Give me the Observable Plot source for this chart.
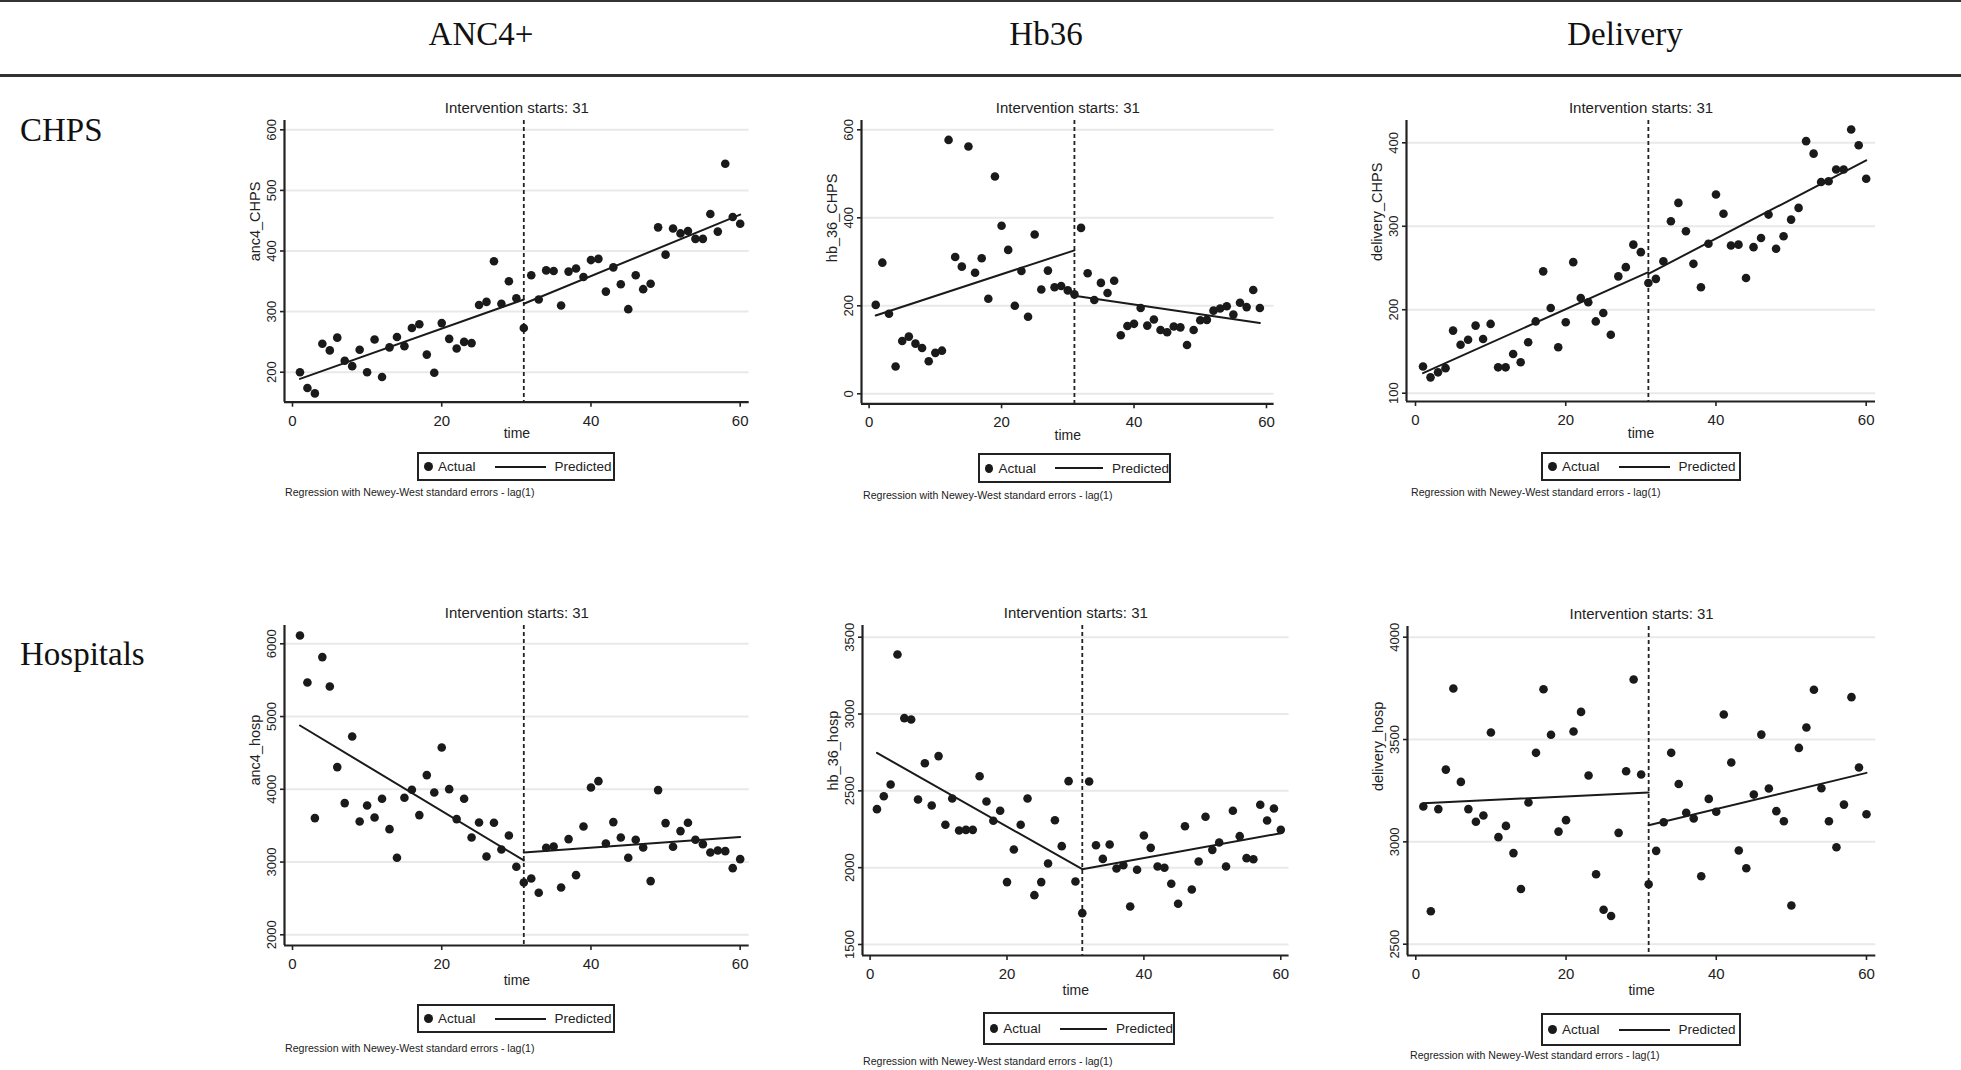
<!DOCTYPE html>
<html><head><meta charset="utf-8">
<script src="https://cdn.jsdelivr.net/npm/d3@7"></script>
<script src="https://cdn.jsdelivr.net/npm/@observablehq/plot@0.6"></script>
<style>
body{margin:0;background:#fff;}
#page{position:relative;width:1961px;height:1070px;overflow:hidden;font-family:"Liberation Sans",Arial,sans-serif;color:#222;background:#fff;}
.hline{position:absolute;left:0;width:1961px;background:#333;}
.head{position:absolute;font-family:"Liberation Serif","Times New Roman",serif;font-size:33px;color:#111;transform:translate(-50%,-50%);white-space:nowrap;}
.row{position:absolute;font-family:"Liberation Serif","Times New Roman",serif;font-size:33px;color:#111;transform:translateY(-50%);white-space:nowrap;}
.panel{position:absolute;}
.legend{position:absolute;border:2px solid #222;box-sizing:border-box;display:flex;align-items:center;font-size:13.5px;background:#fff;padding-left:5px;white-space:nowrap;}
.legend .dot{width:9px;height:9px;border-radius:50%;background:#1a1a1a;margin-right:5px;}
.legend .ln{width:51px;height:2px;background:#1a1a1a;margin:0 9px 0 19px;}
.note{position:absolute;font-size:10.6px;white-space:nowrap;color:#222;}
</style></head><body><div id="page"></div>
<script>
// ---------------- DATA ----------------
const columns = ["ANC4+", "Hb36", "Delivery"];
const rows = ["CHPS", "Hospitals"];
const interventionStart = 31;
const xTicks = [0, 20, 40, 60];
const time = [1,2,3,4,5,6,7,8,9,10,11,12,13,14,15,16,17,18,19,20,21,22,23,24,25,26,27,28,29,30,
  31,32,33,34,35,36,37,38,39,40,41,42,43,44,45,46,47,48,49,50,51,52,53,54,55,56,57,58,59,60];

const anc4CHPS = [200,174,165,247,236,257,219,210,237,200,254,192,241,258,243,273,279,229,199,281,
  255,239,250,248,311,316,383,313,350,322,273,360,320,368,367,310,366,371,357,385,
  387,333,373,345,304,360,337,346,439,394,437,429,433,420,420,461,432,544,456,445];
const hb36CHPS = [202,298,182,62,120,130,114,104,74,93,98,577,311,289,562,275,308,216,494,382,
  327,200,279,175,362,237,280,242,245,235,226,377,274,213,252,229,257,133,154,159,
  195,155,169,145,140,153,151,111,145,167,168,189,194,199,180,207,197,236,195];
const deliveryCHPS = [132,119,125,130,175,158,164,181,165,183,131,131,147,137,161,186,246,202,155,185,
  257,214,209,186,196,170,240,251,278,269,232,237,258,306,328,294,255,227,279,338,
  315,277,278,238,275,286,314,273,288,308,322,402,387,353,354,368,368,416,397,357];
const anc4Hosp = [6115,5468,3604,5817,5414,4305,3810,4726,3558,3778,3613,3869,3452,3058,3883,3993,3645,4195,3956,4575,
  4002,3590,3869,3338,3544,3077,3540,3173,3365,2935,2719,2774,2577,3196,3214,2651,3315,2820,3489,4025,
  4112,3255,3549,3338,3058,3306,3200,2738,3989,3535,3210,3425,3540,3306,3246,3132,3159,3150,2916,3040];
const hb36Hosp = [2381,2465,2541,3387,2973,2964,2444,2680,2405,2726,2279,2450,2242,2246,2246,2595,2431,2305,2370,1906,
  2118,2279,2450,1821,1906,2027,2309,2140,2563,1910,1704,2561,2146,2057,2151,1995,2016,1747,1986,2209,
  2129,2008,1999,1895,1765,2270,1858,2040,2331,2116,2164,2008,2370,2205,2062,2055,2409,2307,2385,2246];
const deliveryHosp = [3173,2661,3160,3353,3749,3293,3160,3098,3129,3534,3023,3078,2945,2770,3192,3435,3746,3523,3050,3106,
  3539,3635,3324,2842,2668,2638,3044,3345,3793,3329,2793,2956,3096,3435,3283,3142,3114,2832,3210,3147,
  3622,3388,2958,2871,3231,3524,3261,3150,3101,2689,3459,3559,3743,3262,3101,2974,3182,3707,3363,3135];

// predicted (regression) segment end values: [value at start, value at end]
const anc4CHPSPre = [189, 320],      anc4CHPSPost = [313, 460];
const hb36CHPSPre = [178, 326],      hb36CHPSPost = [223, 161];
const deliveryCHPSPre = [124, 245],  deliveryCHPSPost = [243, 379];
const anc4HospPre = [4877, 3022],    anc4HospPost = [3132, 3343];
const hb36HospPre = [2747, 1990],    hb36HospPost = [1990, 2224];
const deliveryHospPre = [3189, 3241],deliveryHospPost = [3081, 3337];
const predTimes60 = [1, 31, 31, 60];
const predTimes59 = [1, 31, 31, 59];

const yLabels = ["anc4_CHPS","hb_36_CHPS","delivery_CHPS","anc4_hosp","hb_36_hosp","delivery_hosp"];
const yTicksAll = [[200,300,400,500,600],[0,200,400,600],[100,200,300,400],
  [2000,3000,4000,5000,6000],[1500,2000,2500,3000,3500],[2500,3000,3500,4000]];
const titleText = "Intervention starts: 31";
const noteText = "Regression with Newey-West standard errors - lag(1)";

// ---------------- LAYOUT ----------------
const frames = [
  {l:284.3, r:749, t:120, b:401.7, x0:292.3, x60:740,   ya:[600,129.3], yb:[200,371.7], timeDy:36},
  {l:860.7, r:1273.3, t:120, b:403.3, x0:868.3, x60:1265.7, ya:[600,129.3], yb:[0,393.3], timeDy:36},
  {l:1406, r:1875, t:120, b:401, x0:1415, x60:1865.7, ya:[400,142.3], yb:[100,392.7], timeDy:36},
  {l:284.3, r:749, t:625, b:945, x0:292.3, x60:740,   ya:[6000,643.3], yb:[2000,934.3], timeDy:40},
  {l:861.7, r:1288.3, t:625, b:955, x0:869.3, x60:1280, ya:[3500,636.7], yb:[1500,944], timeDy:40},
  {l:1406.7, r:1875, t:626, b:955, x0:1415, x60:1865.7, ya:[4000,636.7], yb:[2500,943.7], timeDy:40}
];
const legends = [
  {l:417,t:452,w:198,h:29},{l:978,t:453,w:193,h:30},{l:1541,t:452,w:200,h:29},
  {l:417,t:1004,w:198,h:29},{l:983,t:1012,w:192,h:33},{l:1541,t:1013,w:200,h:33}
];
const notes = [{l:285,t:486},{l:863,t:489},{l:1411,t:486},{l:285,t:1042},{l:863,t:1055},{l:1410,t:1049}];

const seriesList = [
  [anc4CHPS, anc4CHPSPre, anc4CHPSPost, predTimes60],
  [hb36CHPS, hb36CHPSPre, hb36CHPSPost, predTimes59],
  [deliveryCHPS, deliveryCHPSPre, deliveryCHPSPost, predTimes60],
  [anc4Hosp, anc4HospPre, anc4HospPost, predTimes60],
  [hb36Hosp, hb36HospPre, hb36HospPost, predTimes60],
  [deliveryHosp, deliveryHospPre, deliveryHospPost, predTimes60]
];

const page = document.getElementById("page");
function addDiv(cls, style, text){
  const d = document.createElement("div"); d.className = cls;
  Object.assign(d.style, style); if (text != null) d.textContent = text;
  page.appendChild(d); return d;
}
addDiv("hline", {top:"0px", height:"2px"});
addDiv("hline", {top:"74px", height:"3px"});
[481, 1046, 1625].forEach((cx, i) => addDiv("head", {left: cx+"px", top:"34px"}, columns[i]));
[130, 654].forEach((cy, i) => addDiv("row", {left:"20px", top: cy+"px"}, rows[i]));

const pad = {l:95, r:25, t:45, b:55};
seriesList.forEach(([vals, pre, post, pt], i) => {
  const f = frames[i];
  const kx = (f.x60 - f.x0) / 60;
  const xd = [(f.l - f.x0)/kx, (f.r - f.x0)/kx];
  const ky = (f.yb[1] - f.ya[1]) / (f.yb[0] - f.ya[0]);
  const yLow = f.ya[0] + (f.b - f.ya[1]) / ky;
  const yHigh = f.ya[0] + (f.t - f.ya[1]) / ky;
  const pts = vals.map((v, j) => ({t: time[j], v}));
  const lines = [
    {t: pt[0], v: pre[0], s: "pre"}, {t: pt[1], v: pre[1], s: "pre"},
    {t: pt[2], v: post[0], s: "post"}, {t: pt[3], v: post[1], s: "post"}
  ];
  const W = f.r - f.l + pad.l + pad.r, H = f.b - f.t + pad.t + pad.b;
  const yTicks = yTicksAll[i];
  const chart = Plot.plot({
    width: W, height: H,
    marginLeft: pad.l, marginRight: pad.r, marginTop: pad.t, marginBottom: pad.b,
    x: {domain: xd}, y: {domain: [yLow, yHigh]},
    style: {fontFamily: '"Liberation Sans",Arial,sans-serif', color: "#222", background: "transparent", overflow: "visible"},
    marks: [
      Plot.gridY(yTicks, {stroke: "#e9e9e9", strokeOpacity: 1, strokeWidth: 2}),
      Plot.ruleX([interventionStart], {stroke: "#222", strokeWidth: 1.8, strokeDasharray: "4,3"}),
      Plot.line(lines, {x: "t", y: "v", z: "s", stroke: "#1a1a1a", strokeWidth: 2}),
      Plot.dot(pts, {x: "t", y: "v", r: 4.3, fill: "#1a1a1a", stroke: "none"}),
      Plot.ruleX([xd[0]], {stroke: "#222", strokeWidth: 2.2}),
      Plot.ruleY([yLow], {stroke: "#222", strokeWidth: 2.2}),
      Plot.axisY(yTicks, {tickRotate: -90, tickSize: 4, label: null, fontSize: 13, strokeWidth: 1.6, tickFormat: d => String(d)}),
      Plot.axisX(xTicks, {tickSize: 5, tickPadding: 8, label: null, fontSize: 15, strokeWidth: 1.6, tickFormat: d => String(d)}),
      Plot.text([titleText], {frameAnchor: "top", dy: -18, fontSize: 15, text: d => d}),
      Plot.text(["time"], {frameAnchor: "bottom", dy: f.timeDy, fontSize: 14, text: d => d}),
      Plot.text([yLabels[i]], {frameAnchor: "left", dx: -29, rotate: -90, fontSize: 14.5, text: d => d})
    ]
  });
  const holder = addDiv("panel", {left: (f.l - pad.l)+"px", top: (f.t - pad.t)+"px"});
  holder.appendChild(chart);

  const lg = legends[i];
  const L = addDiv("legend", {left: lg.l+"px", top: lg.t+"px", width: lg.w+"px", height: lg.h+"px"});
  L.innerHTML = '<span class="dot"></span><span>Actual</span><span class="ln"></span><span>Predicted</span>';
  const n = notes[i];
  addDiv("note", {left: n.l+"px", top: n.t+"px"}, noteText);
});
</script></body></html>
